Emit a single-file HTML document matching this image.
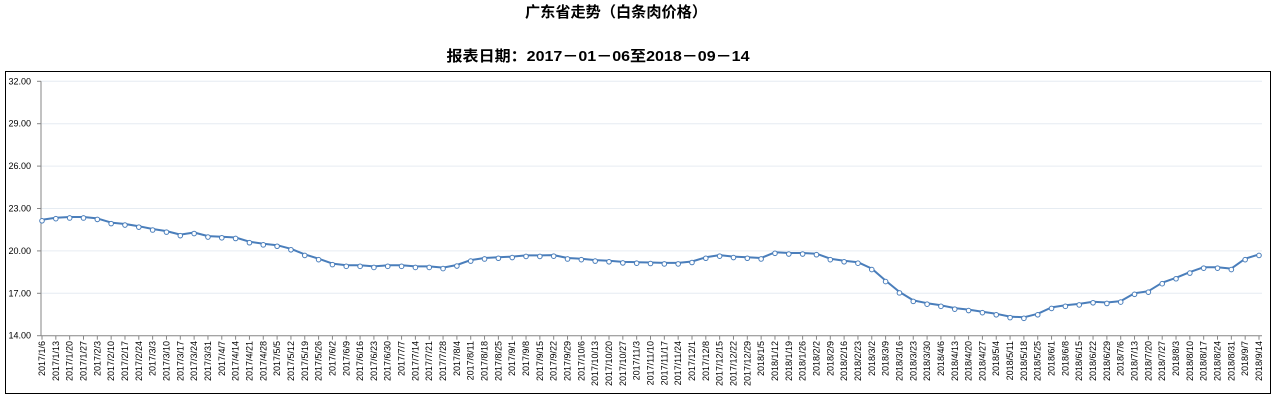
<!DOCTYPE html>
<html><head><meta charset="utf-8"><style>
body{margin:0;background:#fff;}
svg{display:block;font-family:"Liberation Sans","Noto Sans CJK SC",sans-serif;}
</style></head><body>
<svg id="s" width="1277" height="402" xmlns="http://www.w3.org/2000/svg">
<text x="616" y="17" text-anchor="middle" font-size="15" font-weight="bold" textLength="182" lengthAdjust="spacingAndGlyphs">广东省走势（白条肉价格）</text>
<text x="598" y="61" text-anchor="middle" font-size="15" font-weight="bold" textLength="303" lengthAdjust="spacingAndGlyphs">报表日期：2017－01－06至2018－09－14</text>
<rect x="5.5" y="71.5" width="1265" height="322" fill="none" stroke="#000" stroke-width="1"/>
<g id="g"></g>
</svg>
<script>
var v=[22.2,22.35,22.4,22.4,22.3,22.0,21.9,21.75,21.55,21.4,21.15,21.3,21.05,21.0,20.95,20.65,20.5,20.4,20.15,19.75,19.45,19.1,18.98,18.98,18.9,18.98,18.98,18.9,18.9,18.82,19.0,19.35,19.5,19.55,19.6,19.68,19.68,19.7,19.5,19.45,19.35,19.3,19.22,19.2,19.18,19.15,19.15,19.25,19.55,19.7,19.6,19.55,19.5,19.9,19.85,19.85,19.8,19.45,19.3,19.2,18.75,17.9,17.1,16.5,16.3,16.15,15.95,15.85,15.7,15.55,15.35,15.3,15.55,16.0,16.15,16.25,16.4,16.35,16.45,17.0,17.15,17.75,18.1,18.5,18.85,18.85,18.75,19.45,19.75];
var d=[];var t=new Date(2017,0,6);
for(var i=0;i<89;i++){var q=new Date(t.getTime()+i*7*864e5);d.push(q.getFullYear()+'/'+(q.getMonth()+1)+'/'+q.getDate());}
function Y(a){return 335.7-(a-14)*254.4/18;}
function X(i){return 42+i*1217/88;}
var h='';
for(var k=0;k<=6;k++){var y=Y(14+3*k);
 if(k>0)h+='<line x1="41" x2="1262" y1="'+y+'" y2="'+y+'" stroke="#e6ecf2"/>';
 h+='<line x1="37" x2="41" y1="'+y+'" y2="'+y+'" stroke="#868686"/>';
 h+='<text x="31" y="'+(y+3)+'" text-anchor="end" font-size="9">'+(14+3*k).toFixed(2)+'</text>';}
h+='<line x1="41" x2="41" y1="'+Y(32)+'" y2="'+Y(14)+'" stroke="#868686"/>';
h+='<line x1="41" x2="1262" y1="'+Y(14)+'" y2="'+Y(14)+'" stroke="#868686"/>';
var p='';
for(var i=0;i<89;i++){var x=X(i);
 h+='<line x1="'+x+'" x2="'+x+'" y1="'+Y(14)+'" y2="'+(Y(14)+4)+'" stroke="#868686"/>';
 h+='<text transform="translate('+(x+3)+',341) rotate(-90)" text-anchor="end" font-size="9">'+d[i]+'</text>';
 p+=(i?'L':'M')+x.toFixed(1)+','+Y(v[i]).toFixed(1);}
h+='<path d="'+p+'" fill="none" stroke="#4a7ebb" stroke-width="2" stroke-linejoin="round"/>';
for(var i=0;i<89;i++)h+='<circle cx="'+X(i)+'" cy="'+(Y(v[i])+1)+'" r="2.3" fill="#fff" stroke="#4a7ebb" stroke-width="1"/>';
document.getElementById('g').innerHTML=h;
</script>
</body></html>
